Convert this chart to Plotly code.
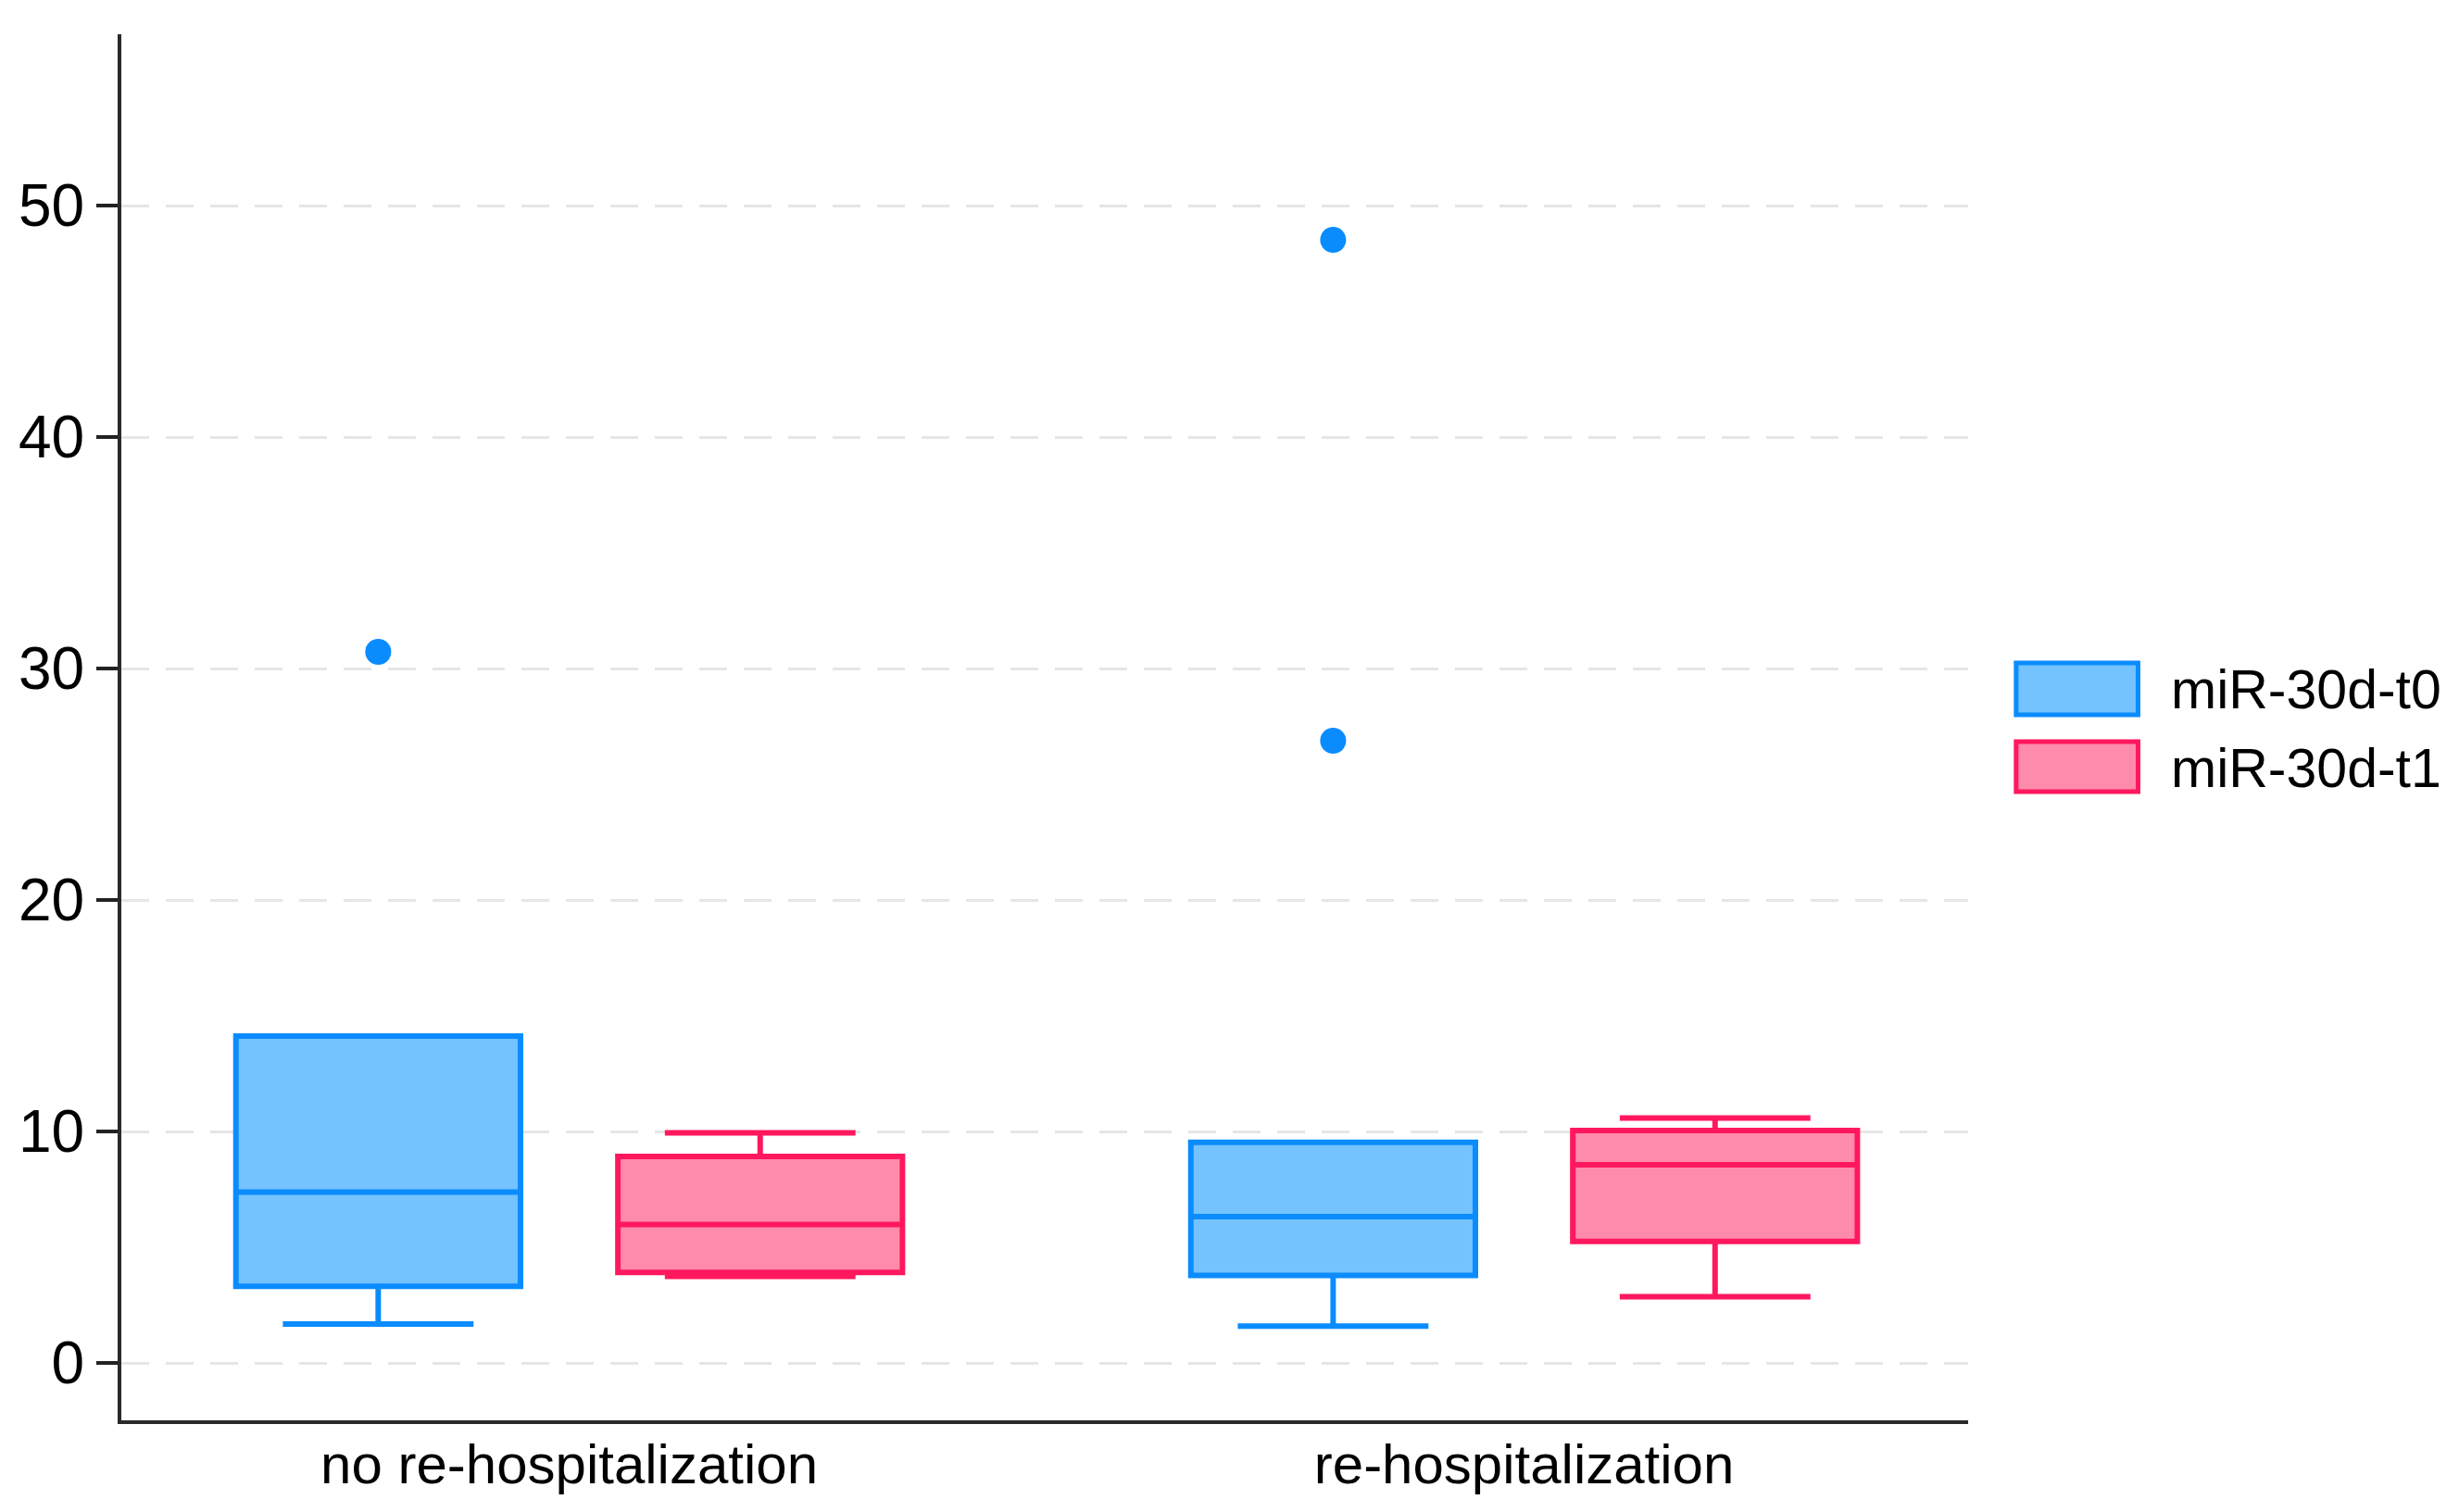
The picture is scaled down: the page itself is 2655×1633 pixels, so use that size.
import plotly.graph_objects as go

categories = ["no re-hospitalization", "re-hospitalization"]
series_names = ["miR-30d-t0", "miR-30d-t1"]

t0_lower = [1.68, 1.59]
t0_q1 = [3.31, 3.78]
t0_median = [7.38, 6.32]
t0_q3 = [14.12, 9.53]
t0_upper = [14.12, 9.53]
t0_outliers = [[30.72], [48.52, 26.88]]

t1_lower = [3.74, 2.86]
t1_q1 = [3.91, 5.25]
t1_median = [5.98, 8.56]
t1_q3 = [8.92, 10.04]
t1_upper = [9.94, 10.58]
t1_outliers = None

y_ticks = [0, 10, 20, 30, 40, 50]

BLUE_LINE = "rgb(10,140,255)"
BLUE_FILL = "rgb(116,195,254)"
PINK_LINE = "rgb(255,24,94)"
PINK_FILL = "rgb(255,139,172)"
FONT = "Liberation Sans, Arial, sans-serif"

fig = go.Figure()

def add_box(name, lower, q1, med, q3, upper, pts, line, fill):
    kw = {}
    if pts is not None:
        kw["y"] = pts
        kw["boxpoints"] = "outliers"
    else:
        kw["boxpoints"] = False
    fig.add_trace(go.Box(
        name=name,
        x=categories,
        q1=q1, median=med, q3=q3,
        lowerfence=lower, upperfence=upper,
        jitter=0, pointpos=0,
        whiskerwidth=0.67,
        line=dict(color=line, width=6),
        fillcolor=fill,
        marker=dict(color=line, size=28, line=dict(width=0)),
        showlegend=False,
        **kw,
    ))

add_box(series_names[0], t0_lower, t0_q1, t0_median, t0_q3, t0_upper, t0_outliers, BLUE_LINE, BLUE_FILL)
add_box(series_names[1], t1_lower, t1_q1, t1_median, t1_q3, t1_upper, t1_outliers, PINK_LINE, PINK_FILL)

# legend drawn as swatches + labels (large swatches as in reference)
legend_rows = [
    (series_names[0], BLUE_LINE, BLUE_FILL, 0.5464, 0.509, 0.527),
    (series_names[1], PINK_LINE, PINK_FILL, 0.4897, 0.4536, 0.470),
]
for name, lc, fc, y1, y0, yt in legend_rows:
    fig.add_shape(type="rect", xref="paper", yref="paper",
                  x0=1.026, x1=1.092, y0=y0, y1=y1,
                  line=dict(color=lc, width=5), fillcolor=fc, layer="above")
    fig.add_annotation(xref="paper", yref="paper", x=1.109, y=yt,
                       text=name, showarrow=False, xanchor="left", yanchor="middle",
                       font=dict(size=59, color="black", family=FONT))

fig.update_layout(
    width=2655, height=1633,
    margin=dict(l=119, r=538, t=29, b=107),
    paper_bgcolor="white", plot_bgcolor="white",
    boxmode="group", boxgap=0.2, boxgroupgap=0.255,
    font=dict(family=FONT, size=58, color="black"),
    showlegend=False,
)
fig.update_xaxes(
    type="category",
    range=[-0.469, 1.465],
    showline=True, linecolor="#2a2a2a", linewidth=4,
    showgrid=False, zeroline=False,
    ticks="", ticklen=0, ticklabelstandoff=-8,
    tickfont=dict(size=60, color="black", family=FONT),
)
fig.update_yaxes(
    range=[-2.48, 57.4],
    tickvals=y_ticks,
    showline=True, linecolor="#2a2a2a", linewidth=4,
    showgrid=True, gridcolor="#e6e6e6", gridwidth=3, griddash="30px,18px",
    zeroline=False,
    ticks="outside", ticklen=23, tickwidth=4, tickcolor="#222222",
    tickfont=dict(size=64, color="black", family=FONT),
)

fig.write_html("out.html")
